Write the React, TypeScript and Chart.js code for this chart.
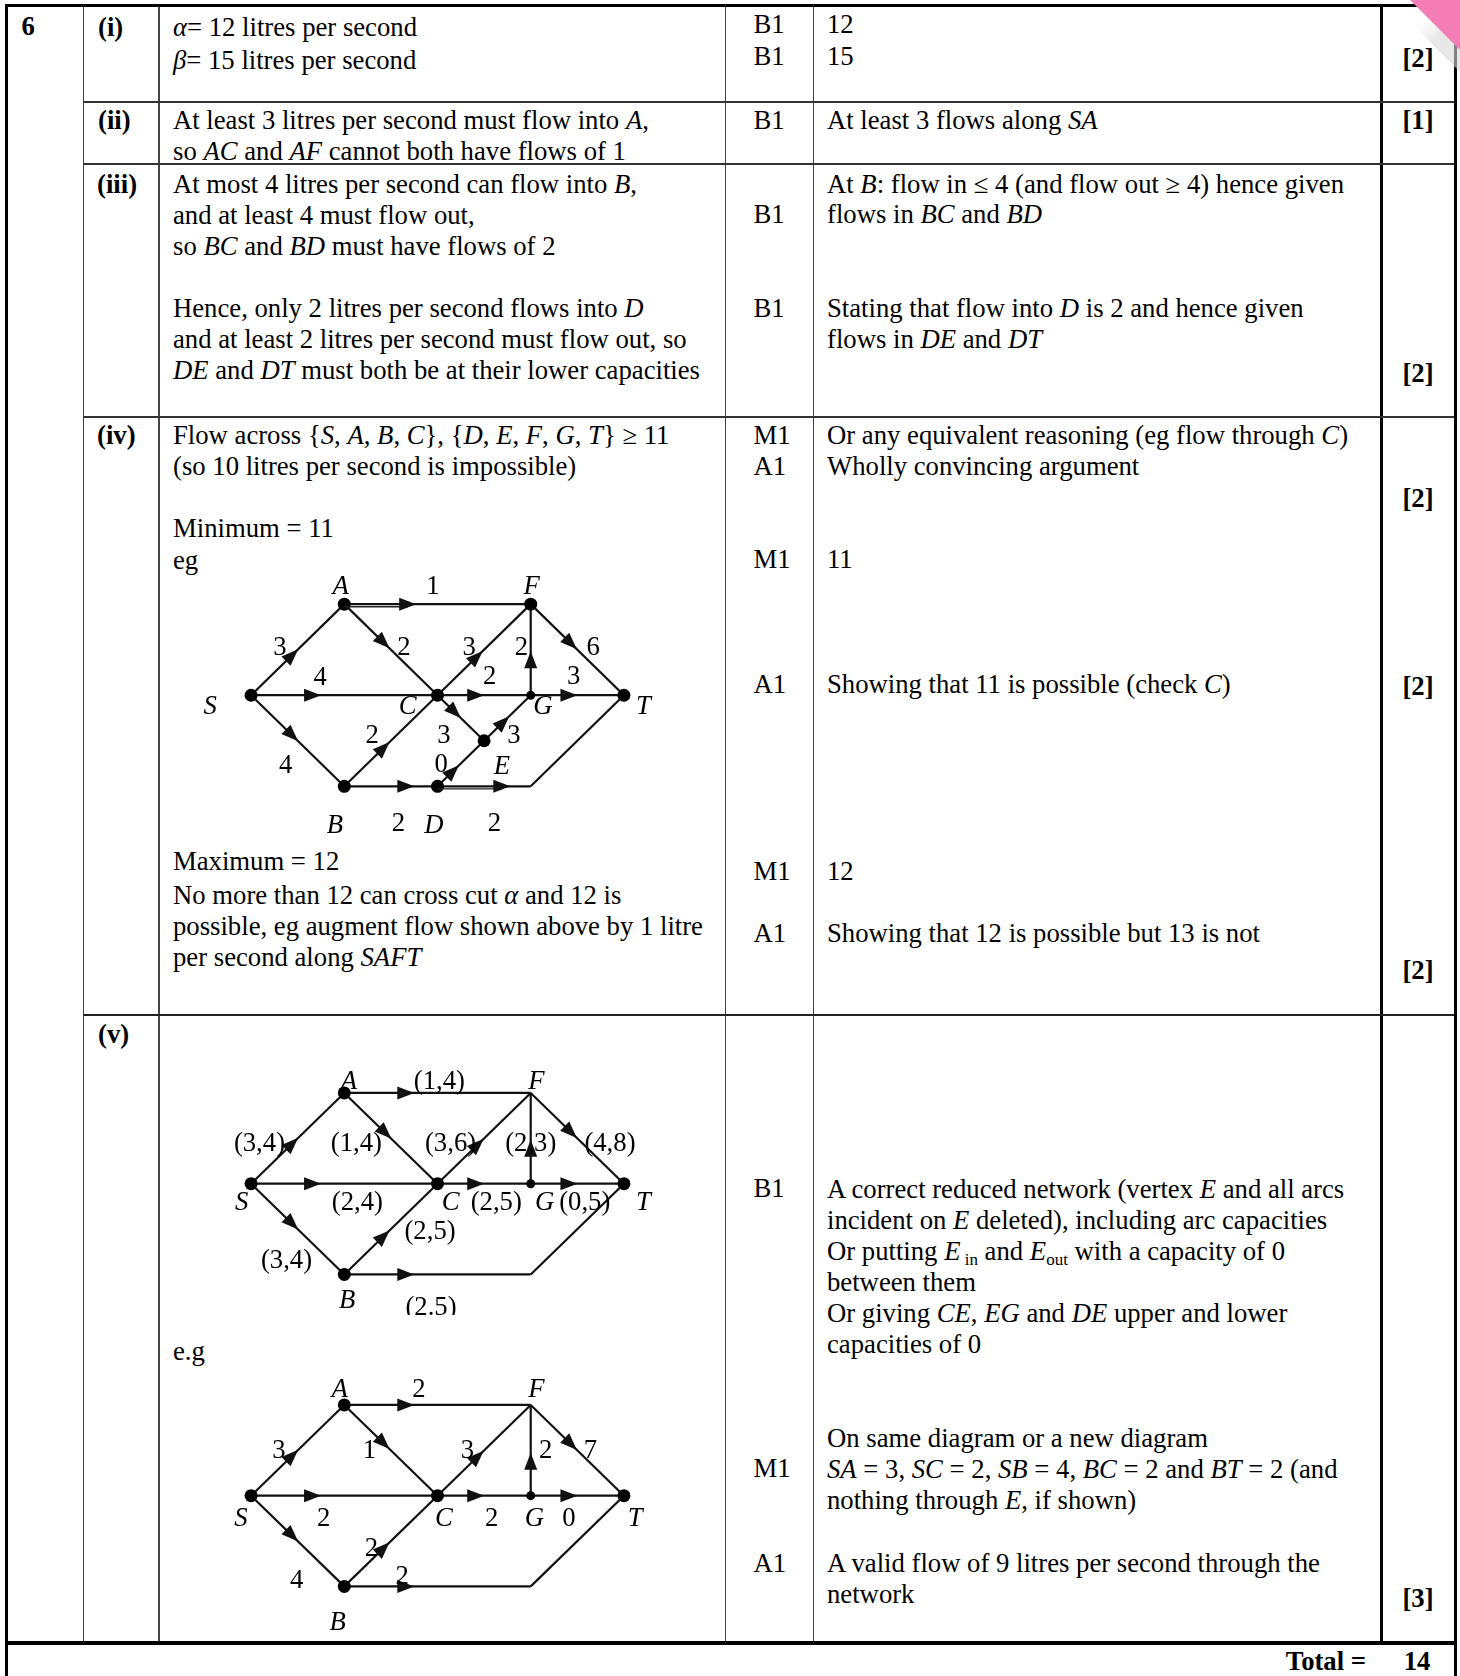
import React, { useEffect, useRef } from "react";
import { Chart, registerables } from "chart.js";
Chart.register(...registerables);

const SERIF = '"Liberation Serif", "Times New Roman", Times, serif';
const FS = 26.7;
const UX = 95.6;
const UY = 95;

type NodeT = [string, number, number];
type EdgeT = [string, string, number | null];
type LabelT = [string, number, number, boolean?];

// ---------- Network in part (iv) : example flow of 11 ----------
const NET1_NODES: NodeT[] = [
  ["S", 0, 1], ["A", 1, 0], ["F", 3, 0], ["C", 2, 1], ["G", 3, 1],
  ["T", 4, 1], ["B", 1, 2], ["D", 2, 2], ["E", 2.5, 1.5], ["K", 3, 2],
];
const NET1_BIG = ["S", "A", "F", "C", "T", "B", "D", "E"];
const NET1_SMALL = ["G"];
const NET1_EDGES: EdgeT[] = [
  ["S", "A", 0.44], ["S", "C", 0.33], ["S", "B", 0.44], ["A", "F", 0.34],
  ["A", "C", 0.42], ["B", "C", 0.42], ["B", "D", 0.66], ["C", "F", 0.42],
  ["C", "G", 0.41], ["C", "E", 0.37], ["G", "F", 0.39], ["G", "T", 0.41],
  ["F", "T", 0.43], ["D", "E", 0.33], ["E", "G", 0.41], ["D", "K", 0.69],
  ["K", "T", null],
];
const NET1_DOUBLE = ["A-F", "D-K"];
const NET1_LABELS: LabelT[] = [
  ["A", 0.96, -0.21, true], ["1", 1.95, -0.21], ["F", 3.01, -0.21, true],
  ["3", 0.31, 0.46], ["2", 1.64, 0.46], ["3", 2.34, 0.46], ["2", 2.9, 0.46], ["6", 3.67, 0.46],
  ["4", 0.74, 0.79], ["2", 2.56, 0.78], ["3", 3.46, 0.78],
  ["S", -0.44, 1.11, true], ["C", 1.68, 1.11, true], ["G", 3.13, 1.11, true], ["T", 4.21, 1.11, true],
  ["2", 1.3, 1.43], ["3", 2.07, 1.43], ["3", 2.82, 1.43],
  ["4", 0.37, 1.76], ["0", 2.04, 1.75], ["E", 2.69, 1.77, true],
  ["B", 0.9, 2.42, true], ["2", 1.58, 2.39], ["D", 1.96, 2.42, true], ["2", 2.61, 2.39],
];

// ---------- Network in part (v) : reduced network with (lower, upper) ----------
const NET2_NODES: NodeT[] = [
  ["S", 0, 1], ["A", 1, 0], ["F", 3, 0], ["C", 2, 1], ["G", 3, 1],
  ["T", 4, 1], ["B", 1, 2], ["K", 3, 2],
];
const NET2_BIG = ["S", "A", "C", "T", "B"];
const NET2_SMALL = ["G"];
const NET2_EDGES: EdgeT[] = [
  ["S", "A", 0.44], ["A", "F", 0.33], ["A", "C", 0.44], ["S", "C", 0.33],
  ["C", "F", 0.43], ["G", "F", 0.39], ["F", "T", 0.43], ["C", "G", 0.41],
  ["G", "T", 0.41], ["S", "B", 0.44], ["B", "C", 0.42], ["B", "K", 0.33],
  ["K", "T", null],
];
const NET2_LABELS: LabelT[] = [
  ["A", 1.05, -0.14, true], ["(1,4)", 2.02, -0.14], ["F", 3.06, -0.14, true],
  ["(3,4)", 0.09, 0.54], ["(1,4)", 1.13, 0.54], ["(3,6)", 2.14, 0.54], ["(2,3)", 3.0, 0.54], ["(4,8)", 3.85, 0.54],
  ["S", -0.1, 1.19, true], ["(2,4)", 1.14, 1.19], ["C", 2.14, 1.19, true], ["(2,5)", 2.63, 1.19],
  ["G", 3.15, 1.19, true], ["(0,5)", 3.58, 1.19], ["T", 4.21, 1.19, true],
  ["(2,5)", 1.92, 1.51], ["(3,4)", 0.38, 1.83],
  ["B", 1.03, 2.27, true], ["(2.5)", 1.93, 2.35],
];

// ---------- Network in part (v) : example flow of 9 ----------
const NET3_NODES: NodeT[] = NET2_NODES;
const NET3_BIG = NET2_BIG;
const NET3_SMALL = NET2_SMALL;
const NET3_EDGES: EdgeT[] = [
  ["S", "A", 0.44], ["A", "F", 0.33], ["A", "C", 0.42], ["S", "C", 0.33],
  ["C", "F", 0.43], ["G", "F", 0.38], ["F", "T", 0.43], ["C", "G", 0.41],
  ["G", "T", 0.41], ["S", "B", 0.44], ["B", "C", 0.42], ["B", "K", 0.33],
  ["K", "T", null],
];
const NET3_LABELS: LabelT[] = [
  ["A", 0.95, -0.18, true], ["2", 1.8, -0.18], ["F", 3.06, -0.18, true],
  ["3", 0.3, 0.49], ["1", 1.27, 0.49], ["3", 2.32, 0.49], ["2", 3.16, 0.49], ["7", 3.64, 0.49],
  ["S", -0.11, 1.24, true], ["2", 0.78, 1.24], ["C", 2.07, 1.24, true], ["2", 2.58, 1.24],
  ["G", 3.04, 1.24, true], ["0", 3.41, 1.24], ["T", 4.12, 1.24, true],
  ["2", 1.29, 1.57], ["4", 0.49, 1.92], ["2", 1.62, 1.88],
  ["B", 0.93, 2.38, true],
];

function makeNetPlugin(nodes: NodeT[], edges: EdgeT[], labels: LabelT[], doubles: string[]) {
  return {
    id: "netDecor",
    afterDatasetsDraw(chart: any) {
      const ctx: CanvasRenderingContext2D = chart.ctx;
      const xs = chart.scales.x;
      const ys = chart.scales.y;
      const pos = (id: string) => {
        const n = nodes.find((m) => m[0] === id)!;
        return [xs.getPixelForValue(n[1]), ys.getPixelForValue(n[2])];
      };
      ctx.save();
      ctx.fillStyle = "#111";
      ctx.strokeStyle = "#222";
      for (const [a, b, f] of edges) {
        if (f == null) continue;
        const [x1, y1] = pos(a);
        const [x2, y2] = pos(b);
        const dx = x2 - x1, dy = y2 - y1;
        const L = Math.hypot(dx, dy);
        const ux = dx / L, uy = dy / L;
        const cx = x1 + dx * f, cy = y1 + dy * f;
        const len = 17, hw = 6.5;
        if (doubles.includes(a + "-" + b)) {
          ctx.lineWidth = 1.4;
          ctx.beginPath();
          ctx.moveTo(x1 - uy * 2.6, y1 + ux * 2.6);
          ctx.lineTo(cx - uy * 2.6, cy + ux * 2.6);
          ctx.stroke();
        }
        ctx.beginPath();
        ctx.moveTo(cx + (ux * len) / 2, cy + (uy * len) / 2);
        ctx.lineTo(cx - (ux * len) / 2 - uy * hw, cy - (uy * len) / 2 + ux * hw);
        ctx.lineTo(cx - (ux * len) / 2 + uy * hw, cy - (uy * len) / 2 - ux * hw);
        ctx.closePath();
        ctx.fill();
      }
      ctx.textAlign = "center";
      ctx.textBaseline = "alphabetic";
      ctx.fillStyle = "#000";
      for (const [t, lx, ly, it] of labels) {
        ctx.font = `${it ? "italic " : ""}${FS}px ${SERIF}`;
        ctx.fillText(t, xs.getPixelForValue(lx), ys.getPixelForValue(ly) + FS * 0.33);
      }
      ctx.restore();
    },
  };
}

function Network(props: {
  nodes: NodeT[]; edges: EdgeT[]; labels: LabelT[]; big: string[]; small: string[]; doubles?: string[];
  ox: number; oy: number; xr: [number, number]; yr: [number, number];
}) {
  const { nodes, edges, labels, big, small, ox, oy, xr, yr } = props;
  const doubles = props.doubles || [];
  const ref = useRef<HTMLCanvasElement>(null);
  const w = Math.round((xr[1] - xr[0]) * UX);
  const h = Math.round((yr[1] - yr[0]) * UY);
  useEffect(() => {
    const pt = (id: string) => {
      const n = nodes.find((m) => m[0] === id)!;
      return { x: n[1], y: n[2] };
    };
    const datasets: any[] = [
      {
        data: nodes.map((n) => ({ x: n[1], y: n[2] })),
        pointRadius: nodes.map((n) => (big.includes(n[0]) ? 6.5 : small.includes(n[0]) ? 4.5 : 0)),
        pointBackgroundColor: "#000",
        pointBorderWidth: 0,
        showLine: false,
      },
      ...edges.map(([a, b]) => ({
        data: [pt(a), pt(b)],
        showLine: true,
        borderColor: "#111",
        borderWidth: 2.2,
        pointRadius: 0,
      })),
    ];
    const chart = new Chart(ref.current!, {
      type: "scatter",
      data: { datasets },
      options: {
        animation: false,
        responsive: false,
        events: [],
        layout: { padding: 0 },
        plugins: { legend: { display: false }, tooltip: { enabled: false } },
        scales: {
          x: { type: "linear", min: xr[0], max: xr[1], display: false },
          y: { type: "linear", min: yr[0], max: yr[1], reverse: true, display: false },
        },
      },
      plugins: [makeNetPlugin(nodes, edges, labels, doubles)],
    } as any);
    return () => chart.destroy();
  }, []);
  return (
    <canvas
      ref={ref}
      width={w}
      height={h}
      style={{ position: "absolute", left: Math.round(ox + xr[0] * UX), top: Math.round(oy + yr[0] * UY), width: w, height: h }}
    />
  );
}

const Txt = (p: { x: number; y: number; b?: boolean; c?: boolean; r?: boolean; children: any }) => (
  <div
    style={{
      position: "absolute",
      left: p.r ? undefined : p.x,
      right: p.r ? 1460 - p.x : undefined,
      top: p.y - 15.6,
      lineHeight: "31px",
      fontSize: FS,
      fontFamily: SERIF,
      fontWeight: p.b ? "bold" : "normal",
      whiteSpace: "nowrap",
      color: "#000",
      transform: p.c ? "translateX(-50%)" : undefined,
    }}
  >
    {p.children}
  </div>
);

const HL = (p: { x1: number; x2: number; y: number; t: number; col: string }) => (
  <div style={{ position: "absolute", left: p.x1, top: p.y - p.t / 2, width: p.x2 - p.x1, height: p.t, background: p.col }} />
);
const VL = (p: { x: number; y1: number; y2: number; t: number; col: string }) => (
  <div style={{ position: "absolute", left: p.x - p.t / 2, top: p.y1, width: p.t, height: p.y2 - p.y1, background: p.col }} />
);

const Sub = (p: { children: any }) => (
  <span style={{ fontSize: 17, verticalAlign: -5 }}>{p.children}</span>
);

export default function App() {
  const QX = 21.5, PX = 98, AX = 173, MX = 753.5, CX = 827, TX = 1418;
  const thin = "#444";
  return (
    <div style={{ position: "absolute", left: 0, top: 0, width: 1460, height: 1676, background: "#fff", overflow: "hidden" }}>
      {/* grid lines */}
      <VL x={83.4} y1={5} y2={1643} t={1.6} col={thin} />
      <VL x={159} y1={5} y2={1643} t={1.6} col={thin} />
      <VL x={725.7} y1={5} y2={1643} t={1.6} col={thin} />
      <VL x={813.4} y1={5} y2={1643} t={1.6} col={thin} />
      <VL x={1381} y1={5} y2={1643} t={3} col="#000" />
      <HL x1={83} x2={1456} y={101.5} t={2} col="#333" />
      <HL x1={83} x2={1456} y={163.5} t={2} col="#333" />
      <HL x1={83} x2={1456} y={416.8} t={2} col="#333" />
      <HL x1={83} x2={1456} y={1015.4} t={2.2} col="#222" />
      <HL x1={5} x2={1457} y={5.5} t={3} col="#000" />
      <HL x1={5} x2={1457} y={1643} t={3.2} col="#000" />
      <VL x={6.5} y1={4} y2={1676} t={3} col="#000" />
      <VL x={1455} y1={4} y2={1676} t={3} col="#000" />

      {/* question number */}
      <Txt x={QX} y={27} b>6</Txt>

      {/* (i) */}
      <Txt x={PX} y={27.8} b>(i)</Txt>
      <Txt x={AX} y={27.8}><i>α</i>= 12 litres per second</Txt>
      <Txt x={AX} y={60.9}><i>β</i>= 15 litres per second</Txt>
      <Txt x={MX} y={24.6}>B1</Txt>
      <Txt x={MX} y={56.6}>B1</Txt>
      <Txt x={CX} y={24.6}>12</Txt>
      <Txt x={CX} y={56.6}>15</Txt>
      <Txt x={TX} y={58.8} b c>[2]</Txt>

      {/* (ii) */}
      <Txt x={PX} y={120.8} b>(ii)</Txt>
      <Txt x={AX} y={120.8}>At least 3 litres per second must flow into <i>A</i>,</Txt>
      <Txt x={AX} y={151.8}>so <i>AC</i> and <i>AF</i> cannot both have flows of 1</Txt>
      <Txt x={MX} y={120.8}>B1</Txt>
      <Txt x={CX} y={120.8}>At least 3 flows along <i>SA</i></Txt>
      <Txt x={TX} y={120.8} b c>[1]</Txt>

      {/* (iii) */}
      <Txt x={PX - 1} y={184.9} b>(iii)</Txt>
      <Txt x={AX} y={184.9}>At most 4 litres per second can flow into <i>B</i>,</Txt>
      <Txt x={AX} y={215.9}>and at least 4 must flow out,</Txt>
      <Txt x={AX} y={246.9}>so <i>BC</i> and <i>BD</i> must have flows of 2</Txt>
      <Txt x={AX} y={308.9}>Hence, only 2 litres per second flows into <i>D</i></Txt>
      <Txt x={AX} y={339.9}>and at least 2 litres per second must flow out, so</Txt>
      <Txt x={AX} y={370.9}><i>DE</i> and <i>DT</i> must both be at their lower capacities</Txt>
      <Txt x={MX} y={214.8}>B1</Txt>
      <Txt x={MX} y={308.9}>B1</Txt>
      <Txt x={CX} y={184.9}>At <i>B</i>: flow in ≤ 4 (and flow out ≥ 4) hence given</Txt>
      <Txt x={CX} y={214.8}>flows in <i>BC</i> and <i>BD</i></Txt>
      <Txt x={CX} y={308.9}>Stating that flow into <i>D</i> is 2 and hence given</Txt>
      <Txt x={CX} y={339.9}>flows in <i>DE</i> and <i>DT</i></Txt>
      <Txt x={TX} y={374} b c>[2]</Txt>

      {/* (iv) */}
      <Txt x={PX - 1} y={436} b>(iv)</Txt>
      <Txt x={AX} y={436}>Flow across {"{"}<i>S</i>, <i>A</i>, <i>B</i>, <i>C</i>{"}"}, {"{"}<i>D</i>, <i>E</i>, <i>F</i>, <i>G</i>, <i>T</i>{"}"} ≥ 11</Txt>
      <Txt x={AX} y={467}>(so 10 litres per second is impossible)</Txt>
      <Txt x={AX} y={529}>Minimum = 11</Txt>
      <Txt x={AX} y={561}>eg</Txt>
      <Txt x={AX} y={861.5}>Maximum = 12</Txt>
      <Txt x={AX} y={895.7}>No more than 12 can cross cut <i>α</i> and 12 is</Txt>
      <Txt x={AX} y={926.7}>possible, eg augment flow shown above by 1 litre</Txt>
      <Txt x={AX} y={957.6}>per second along <i>SAFT</i></Txt>
      <Txt x={MX} y={436}>M1</Txt>
      <Txt x={MX} y={467}>A1</Txt>
      <Txt x={MX} y={560}>M1</Txt>
      <Txt x={MX} y={685}>A1</Txt>
      <Txt x={MX} y={872}>M1</Txt>
      <Txt x={MX} y={934}>A1</Txt>
      <Txt x={CX} y={436}>Or any equivalent reasoning (eg flow through <i>C</i>)</Txt>
      <Txt x={CX} y={467}>Wholly convincing argument</Txt>
      <Txt x={CX} y={560}>11</Txt>
      <Txt x={CX} y={685}>Showing that 11 is possible (check <i>C</i>)</Txt>
      <Txt x={CX} y={872}>12</Txt>
      <Txt x={CX} y={934}>Showing that 12 is possible but 13 is not</Txt>
      <Txt x={TX} y={499} b c>[2]</Txt>
      <Txt x={TX} y={687} b c>[2]</Txt>
      <Txt x={TX} y={970.5} b c>[2]</Txt>

      {/* (v) */}
      <Txt x={PX} y={1034.6} b>(v)</Txt>
      <Txt x={AX} y={1352}>e.g</Txt>
      <Txt x={MX} y={1188.5}>B1</Txt>
      <Txt x={MX} y={1468.5}>M1</Txt>
      <Txt x={MX} y={1563.7}>A1</Txt>
      <Txt x={CX} y={1189.6}>A correct reduced network (vertex <i>E</i> and all arcs</Txt>
      <Txt x={CX} y={1220.6}>incident on <i>E</i> deleted), including arc capacities</Txt>
      <Txt x={CX} y={1251.6}>Or putting <i>E</i><Sub> in</Sub> and <i>E</i><Sub>out</Sub> with a capacity of 0</Txt>
      <Txt x={CX} y={1282.6}>between them</Txt>
      <Txt x={CX} y={1313.6}>Or giving <i>CE</i>, <i>EG</i> and <i>DE</i> upper and lower</Txt>
      <Txt x={CX} y={1344.6}>capacities of 0</Txt>
      <Txt x={CX} y={1438.6}>On same diagram or a new diagram</Txt>
      <Txt x={CX} y={1469.6}><i>SA</i> = 3, <i>SC</i> = 2, <i>SB</i> = 4, <i>BC</i> = 2 and <i>BT</i> = 2 (and</Txt>
      <Txt x={CX} y={1500.6}>nothing through <i>E</i>, if shown)</Txt>
      <Txt x={CX} y={1563.7}>A valid flow of 9 litres per second through the</Txt>
      <Txt x={CX} y={1594.6}>network</Txt>
      <Txt x={TX} y={1599} b c>[3]</Txt>

      {/* total */}
      <Txt x={1366} y={1662} b r>Total =</Txt>
      <Txt x={1417} y={1662} b c>14</Txt>

      <Network nodes={NET1_NODES} edges={NET1_EDGES} labels={NET1_LABELS} big={NET1_BIG} small={NET1_SMALL}
        doubles={NET1_DOUBLE} ox={246.5} oy={599.5} xr={[-0.8, 4.8]} yr={[-0.6, 2.65]} />
      <Network nodes={NET2_NODES} edges={NET2_EDGES} labels={NET2_LABELS} big={NET2_BIG} small={NET2_SMALL}
        ox={246.5} oy={1089} xr={[-0.8, 4.8]} yr={[-0.6, 2.375]} />
      <Network nodes={NET3_NODES} edges={NET3_EDGES} labels={NET3_LABELS} big={NET3_BIG} small={NET3_SMALL}
        ox={246.5} oy={1401} xr={[-0.8, 4.8]} yr={[-0.6, 2.53]} />

      {/* corner ribbon */}
      <svg width={80} height={80} style={{ position: "absolute", left: 1380, top: 0 }}>
        <defs>
          <linearGradient id="fold" x1="0" y1="0" x2="1" y2="1">
            <stop offset="0.3" stopColor="#ffffff" stopOpacity="0" />
            <stop offset="0.6" stopColor="#d8d8d8" stopOpacity="0.6" />
          </linearGradient>
        </defs>
        <polygon points="8,0 80,0 80,72" fill="url(#fold)" />
        <polygon points="30,0 80,0 80,50" fill="#f57db6" />
      </svg>
    </div>
  );
}
